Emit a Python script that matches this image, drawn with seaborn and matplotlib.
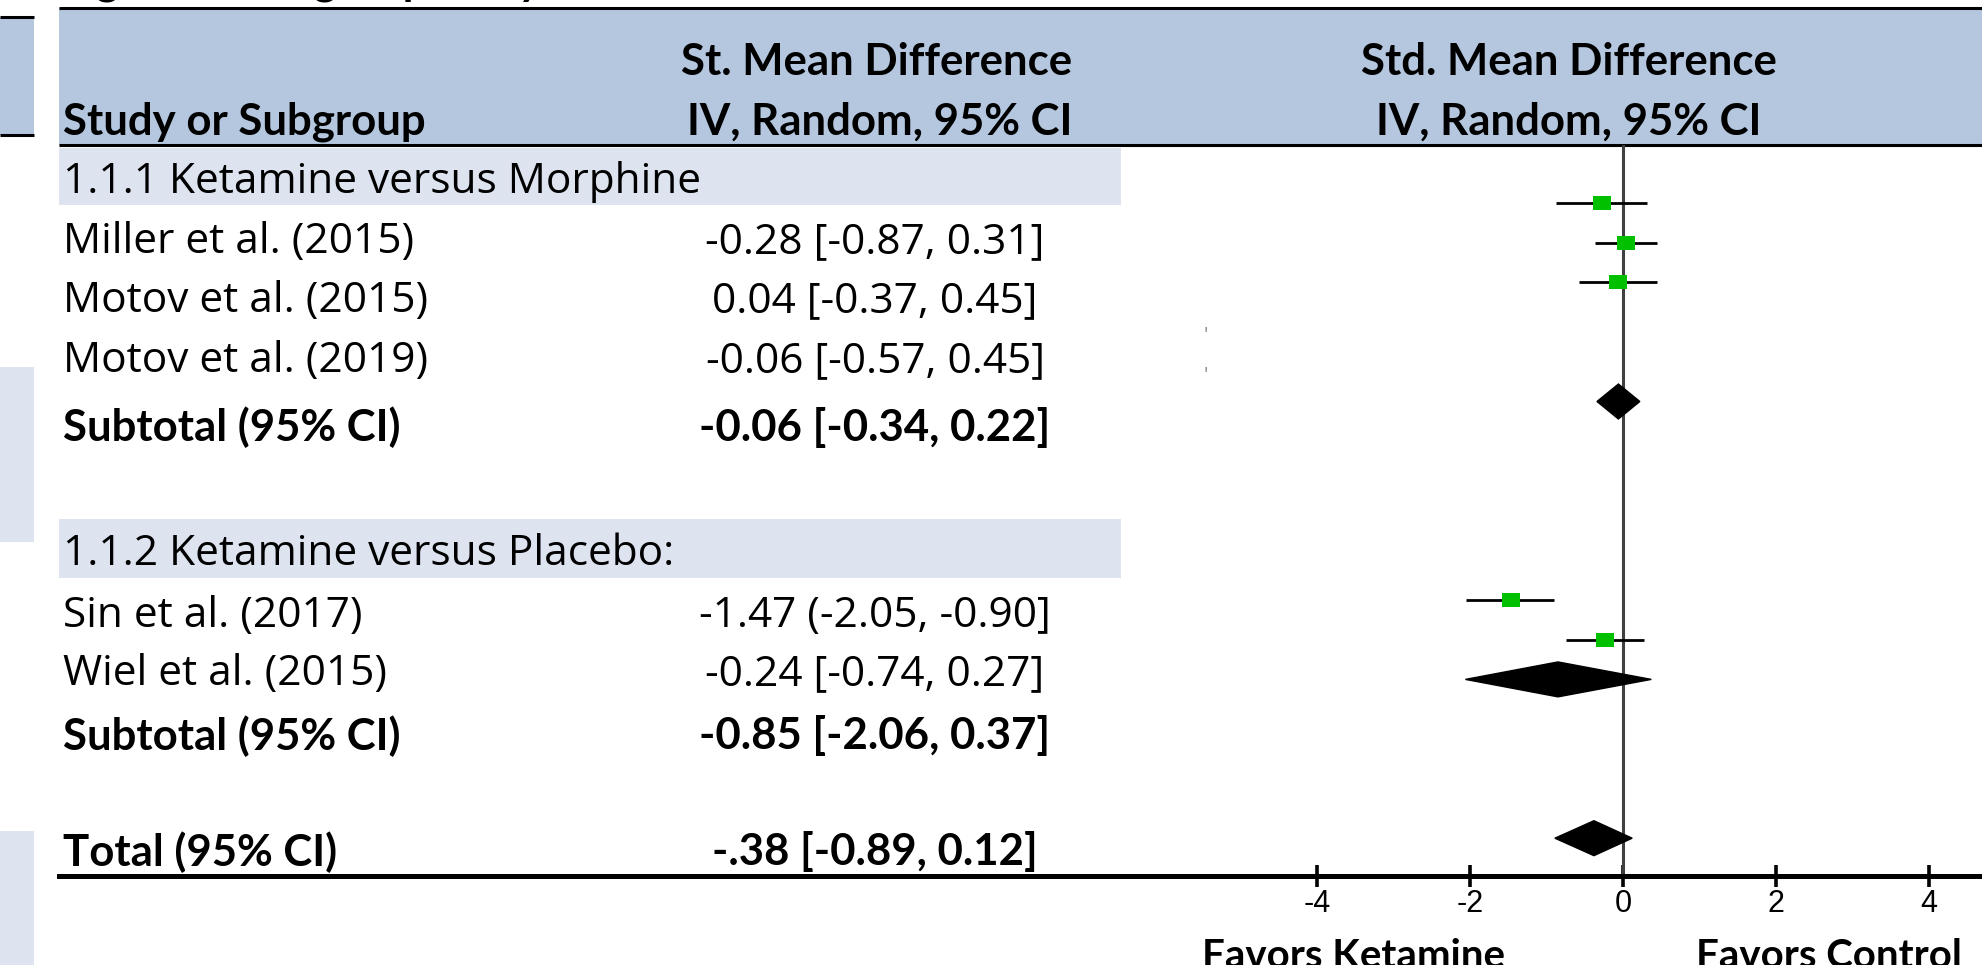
import numpy as np
import pandas as pd
import matplotlib
matplotlib.use("Agg")
import matplotlib.pyplot as plt
import seaborn as sns
from matplotlib.patches import Rectangle, Polygon

# ---------------- data ----------------
subgroups = ["1.1.1 Ketamine versus Morphine", "1.1.2 Ketamine versus Placebo:"]
study_names = ["Miller et al. (2015)", "Motov et al. (2015)", "Motov et al. (2019)",
               "Sin et al. (2017)", "Wiel et al. (2015)"]
study_est = [-0.28, 0.04, -0.06, -1.47, -0.24]
study_lo = [-0.87, -0.37, -0.57, -2.05, -0.74]
study_hi = [0.31, 0.45, 0.45, -0.90, 0.27]
study_labels = ["-0.28 [-0.87, 0.31]", "0.04 [-0.37, 0.45]", "-0.06 [-0.57, 0.45]",
                "-1.47 (-2.05, -0.90]", "-0.24 [-0.74, 0.27]"]
pooled_names = ["Subtotal (95% CI)", "Subtotal (95% CI)", "Total (95% CI)"]
pooled_est = [-0.06, -0.85, -0.38]
pooled_lo = [-0.34, -2.06, -0.89]
pooled_hi = [0.22, 0.37, 0.12]
pooled_labels = ["-0.06 [-0.34, 0.22]", "-0.85 [-2.06, 0.37]", "-.38 [-0.89, 0.12]"]
x_ticks = [-4, -2, 0, 2, 4]
header_left = "Study or Subgroup"
header_mid = ["St. Mean Difference", "IV, Random, 95% CI"]
header_right = ["Std. Mean Difference", "IV, Random, 95% CI"]
favors = ["Favors Ketamine", "Favors Control"]
title = "Figure 1. Subgroup analysis"

# ---------------- layout ----------------
W, H = 1983, 965
study_rows = [0, 1, 2, 10, 11]
pooled_rows = [5, 12, 16]
row0_px, row_step = 203, 39.7
zero_px, unit_px = 1623, 76.5
plot_left, plot_top, axis_y = 59, 145, 876

subgroup_y = [182, 554]
study_text_y = [242, 301, 361, 616, 674]
pooled_text_y = [427, 736, 852]
bands = [(148, 205), (519, 578)]

HEAD_BLUE = "#b4c7df"
LIGHT = "#dde3ef"
GREEN = "#00c000"

sns.set_style("white")
plt.rcParams["font.family"] = ["Open Sans", "DejaVu Sans"]

fig = plt.figure(figsize=(W / 100, H / 100), dpi=100)

# table / background axes in pixel coordinates
tab = fig.add_axes([0, 0, 1, 1])
tab.set_xlim(0, W)
tab.set_ylim(H, 0)
tab.axis("off")

tab.add_patch(Rectangle((plot_left, 8), W - plot_left, plot_top - 8, fc=HEAD_BLUE, ec="none"))
tab.hlines([8, plot_top], plot_left, W, color="black", lw=2.2)
# left fragments of neighbouring slide
tab.add_patch(Rectangle((0, 17), 34, 118, fc=HEAD_BLUE, ec="none"))
tab.hlines([17, 135], 0, 34, color="black", lw=2.2)
tab.add_patch(Rectangle((0, 367), 34, 175, fc=LIGHT, ec="none"))
tab.add_patch(Rectangle((0, 831), 34, 140, fc=LIGHT, ec="none"))
for (y0, y1) in bands:
    tab.add_patch(Rectangle((plot_left, y0), 1121 - plot_left, y1 - y0, fc=LIGHT, ec="none"))

bold_head = dict(family=["Lato", "DejaVu Sans"], fontweight="bold", fontsize=31.5, color="black")
tab.text(60, -5, title, va="baseline", ha="left", **bold_head)
tab.text(63, 122, header_left, va="center", ha="left", **bold_head)
tab.text(1072, 62, header_mid[0], va="center", ha="right", **bold_head)
tab.text(1072, 122, header_mid[1], va="center", ha="right", **bold_head)
tab.text(1569, 62, header_right[0], va="center", ha="center", **bold_head)
tab.text(1569, 122, header_right[1], va="center", ha="center", **bold_head)
fav = dict(bold_head)
fav["fontsize"] = 29
tab.text(1353, 957, favors[0], va="center", ha="center", **fav)
tab.text(1829, 957, favors[1], va="center", ha="center", **fav)

reg = dict(family=["Open Sans", "DejaVu Sans"], fontsize=30.5, color="black")
bld = dict(family=["Lato", "DejaVu Sans"], fontweight="bold", fontsize=31.5, color="black")
for name, y in zip(subgroups, subgroup_y):
    tab.text(63, y, name, va="center", ha="left", **reg)
for name, lab, y in zip(study_names, study_labels, study_text_y):
    tab.text(63, y, name, va="center", ha="left", **reg)
    tab.text(875, y, lab, va="center", ha="center", **reg)
for name, lab, y in zip(pooled_names, pooled_labels, pooled_text_y):
    tab.text(63, y, name, va="center", ha="left", **bld)
    tab.text(875, y, lab, va="center", ha="center", **bld)
tab.text(1206, 331, "!", fontsize=6, ha="center", va="center", color="black")
tab.text(1206, 370, "!", fontsize=6, ha="center", va="center", color="black")

# forest plot axes
ax = fig.add_axes([plot_left / W, (H - axis_y) / H, (W - plot_left) / W, (axis_y - plot_top) / H])
ax.patch.set_alpha(0)

ax.axvline(0, color="#404040", lw=2.2, zorder=1)

df = pd.DataFrame({"row": study_rows, "est": study_est, "lo": study_lo, "hi": study_hi})
ax.hlines(df["row"], df["lo"], df["hi"], color="black", lw=2.0, zorder=2)
rect = [(-1, -0.78), (1, -0.78), (1, 0.78), (-1, 0.78), (-1, -0.78)]
sns.scatterplot(data=df, x="est", y="row", marker=rect, s=170, color=GREEN,
                linewidth=0, ax=ax, zorder=3, legend=False)

half_h = 0.44
for r, e, lo, hi in zip(pooled_rows, pooled_est, pooled_lo, pooled_hi):
    ax.add_patch(Polygon([(lo, r), (e, r - half_h), (hi, r), (e, r + half_h)],
                         closed=True, fc="black", ec="black", lw=1, zorder=3))

ax.set_xlim((plot_left - zero_px) / unit_px, (W - zero_px) / unit_px)
ax.set_ylim((axis_y - row0_px) / row_step, (plot_top - row0_px) / row_step)
ax.set_xlabel("")
ax.set_ylabel("")
ax.set_yticks([])
ax.set_xticks(x_ticks)
ax.set_xticklabels([str(t) for t in x_ticks])
for s in ["top", "left", "right"]:
    ax.spines[s].set_visible(False)
ax.spines["bottom"].set_linewidth(3.6)
ax.spines["bottom"].set_color("black")
ax.spines["bottom"].set_zorder(1)
ax.tick_params(axis="x", bottom=True, direction="inout", length=16, width=2.6,
               color="black", labelsize=22, labelcolor="black", pad=1)
for lbl in ax.get_xticklabels():
    lbl.set_fontfamily(["Liberation Sans", "DejaVu Sans"])

fig.savefig("out.png", dpi=100)
